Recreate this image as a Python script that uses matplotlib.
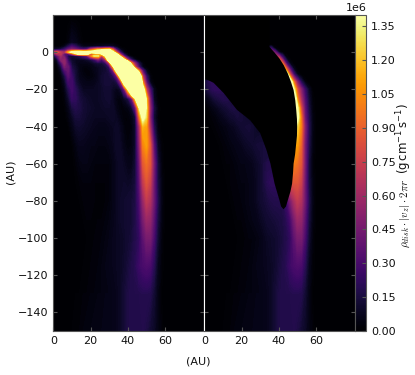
import numpy as np
import matplotlib
matplotlib.use("Agg")
import matplotlib.pyplot as plt
from matplotlib.cm import ScalarMappable
from matplotlib.colors import Normalize

W, H = 415, 375

# mass flux, in units of 1e4 (trailing zeros left out)
x_grid = [0, 2, 4, 6, 8, 10, 12, 14, 16, 18, 20, 22, 24, 26, 28, 30, 32, 34, 36, 38, 40, 42, 44, 46,
          48, 50, 52, 54, 56, 58, 60, 64, 70, 82]

y_left = [20, 5, 3, 1.5, 0, -1, -2, -4, -6, -8, -10, -13, -16, -20, -25, -30, -35, -40, -50, -60, -70,
          -80, -90, -100, -115, -130, -150]
flux_left = [
    [0],
    [0, 0, 0, 0, 3, 8, 6, 3, 1, 1, 1, 1, 1, 1, 1, 1, 1],
    [1, 1, 2, 6, 18, 30, 22, 12, 6, 5, 5, 6, 8, 8, 10, 10, 8, 4, 1],
    [8, 10, 14, 25, 40, 50, 45, 35, 30, 35, 70, 90, 110, 110, 125, 130, 80, 25, 6, 2],
    [70, 85, 70, 60, 110, 150, 170, 180, 170, 170, 160, 170, 190, 240, 300, 300, 150, 70, 22, 3],
    [30, 60, 70, 35, 30, 60, 110, 160, 170, 160, 80, 90, 100, 130, 240, 300, 300, 140, 50, 12, 2],
    [6, 35, 60, 40, 15, 12, 15, 20, 30, 40, 90, 130, 130, 70, 140, 300, 300, 240, 100, 32, 6, 1],
    [1, 10, 50, 55, 20, 10, 8, 8, 8, 10, 15, 25, 45, 30, 60, 200, 300, 300, 280, 140, 55, 18, 4],
    [0, 3, 25, 55, 30, 12, 8, 5, 5, 5, 6, 10, 12, 12, 20, 60, 220, 300, 300, 300, 230, 100, 50, 15, 2],
    [0, 1, 12, 45, 40, 16, 10, 5, 3, 3, 4, 6, 8, 10, 12, 22, 100, 260, 300, 300, 120, 190, 75, 28, 5, 1],
    [0, 0, 6, 30, 40, 20, 12, 5, 3, 2, 3, 5, 8, 10, 12, 16, 40, 160, 300, 300, 300, 120, 190, 95, 33, 6],
    [0, 0, 2, 14, 35, 25, 12, 6, 4, 3, 3, 4, 7, 11, 14, 14, 18, 40, 160, 300, 300, 250, 180, 210, 70, 22, 3],
    [0, 0, 1, 8, 28, 28, 14, 8, 6, 5, 5, 6, 8, 11, 14, 14, 12, 15, 50, 180, 300, 300, 250, 290, 100, 35, 5],
    [0, 0, 0, 4, 18, 28, 20, 12, 8, 8, 8, 8, 9, 10, 12, 12, 9, 6, 10, 40, 130, 280, 300, 300, 170, 70, 30, 6],
    [0, 0, 0, 2, 10, 24, 22, 15, 12, 10, 9, 9, 9, 10, 11, 12, 8, 4, 3, 8, 15, 40, 130, 300, 250, 120, 45, 8, 1],
    [0, 0, 0, 1, 5, 14, 18, 16, 13, 11, 10, 9, 9, 9, 10, 10, 10, 5, 3, 3, 4, 10, 40, 130, 200, 130, 55, 15, 3],
    [0, 0, 0, 0, 3, 8, 14, 14, 12, 10, 9, 8, 8, 8, 8, 9, 10, 8, 4, 2, 2, 4, 12, 90, 150, 125, 50, 12, 2],
    [0, 0, 0, 0, 1, 5, 10, 11, 10, 9, 8, 7, 6, 6, 6, 7, 8, 10, 7, 3, 2, 3, 10, 60, 115, 110, 60, 18, 3],
    [0, 0, 0, 0, 0, 1, 4, 7, 7, 6, 5, 5, 4, 4, 4, 5, 7, 10, 9, 5, 3, 4, 10, 50, 100, 110, 85, 35, 8, 2],
    [0, 0, 0, 0, 0, 0, 2, 4, 5, 5, 4, 3, 3, 3, 3, 3, 5, 8, 10, 8, 6, 6, 12, 40, 85, 95, 85, 45, 14, 3],
    [0, 0, 0, 0, 0, 0, 1, 2, 3, 3, 3, 2, 2, 2, 2, 3, 5, 8, 10, 10, 9, 10, 14, 35, 70, 85, 75, 42, 15, 4],
    [0, 0, 0, 0, 0, 0, 0, 1, 2, 3, 3, 2, 2, 2, 2, 3, 5, 8, 10, 11, 12, 13, 16, 30, 55, 72, 65, 42, 18, 5],
    [0, 0, 0, 0, 0, 0, 0, 1, 1, 2, 2, 2, 2, 2, 3, 4, 6, 8, 10, 11, 12, 13, 17, 26, 45, 58, 55, 36, 15, 4],
    [0, 0, 0, 0, 0, 0, 0, 0, 1, 1, 2, 2, 3, 3, 4, 5, 7, 8, 9, 10, 12, 14, 18, 22, 36, 46, 46, 30, 12, 3],
    [0, 0, 0, 0, 0, 0, 1, 1, 1, 2, 2, 3, 3, 4, 5, 6, 7, 8, 9, 11, 14, 17, 20, 26, 30, 32, 30, 20, 7, 2],
    [0, 0, 0, 0, 0, 0, 1, 1, 2, 2, 3, 3, 4, 4, 5, 5, 6, 7, 9, 13, 16, 18, 18, 18, 19, 19, 18, 12, 5, 1],
    [0, 0, 0, 0, 1, 1, 2, 2, 3, 4, 4, 5, 5, 5, 6, 6, 6, 7, 9, 13, 16, 18, 18, 18, 18, 16, 12, 9, 5, 2],
]

y_right = [20, 4, 2, 0, -3, -6, -9, -12, -16, -20, -25, -30, -35, -40, -50, -60, -70, -80, -90, -100,
           -115, -130, -150]
flux_right = [
    [0],
    [0],
    [0] * 17 + [25, 25, 3],
    [0] * 18 + [55, 40, 6],
    [0] * 19 + [75, 75, 30, 4],
    [0] * 20 + [100, 90, 30, 5],
    [0] * 21 + [130, 90, 35, 7],
    [0] * 22 + [170, 80, 28, 5],
    [10, 18, 22, 22, 22, 20, 18, 15, 12, 10, 8, 8, 8, 8, 8, 8, 8, 8, 8, 8, 8, 8, 200, 180, 95, 48, 18, 3],
    [10, 16, 20, 22, 22, 20, 16, 12, 10, 8, 8, 8, 8, 8, 8, 8, 8, 8, 8, 8, 8, 8, 8, 300, 140, 80, 50, 25, 8, 1],
    [3, 6, 10, 14, 16, 18, 18, 16, 13, 10, 8, 8, 8, 8, 8, 8, 8, 8, 8, 8, 8, 8, 8, 8, 200, 100, 62, 32, 12, 2],
    [1, 2, 4, 6, 9, 11, 13, 15, 16, 15, 12, 8, 8, 8, 8, 8, 8, 8, 8, 8, 8, 8, 8, 8, 200, 140, 80, 38, 15, 3],
    [0, 1, 2, 3, 5, 7, 9, 11, 12, 14, 14, 11, 8, 8, 8, 8, 8, 8, 8, 8, 8, 8, 8, 8, 200, 150, 95, 42, 18, 4],
    [0, 0, 1, 2, 3, 4, 5, 7, 8, 10, 12, 13, 14, 12, 8, 8, 8, 8, 8, 8, 8, 8, 8, 8, 130, 125, 100, 50, 20, 5],
    [0, 0, 0, 0, 1, 2, 3, 4, 5, 6, 7, 9, 10, 11, 13, 14, 14, 8, 8, 8, 8, 8, 8, 110, 110, 110, 90, 45, 18, 4],
    [0, 0, 0, 0, 0, 1, 2, 2, 3, 4, 5, 5, 6, 7, 9, 11, 15, 18, 18, 18, 18, 40, 80, 110, 100, 95, 85, 45, 14, 3],
    [0, 0, 0, 0, 0, 0, 1, 2, 3, 3, 4, 4, 5, 6, 8, 11, 15, 20, 22, 22, 22, 30, 60, 85, 85, 85, 75, 42, 15, 4],
    [0, 0, 0, 0, 0, 0, 0, 1, 2, 3, 3, 4, 5, 6, 8, 11, 13, 15, 17, 18, 18, 18, 26, 45, 62, 72, 65, 42, 18, 5],
    [0, 0, 0, 0, 0, 0, 0, 1, 1, 2, 2, 3, 4, 5, 6, 8, 10, 12, 13, 14, 15, 16, 20, 28, 45, 58, 55, 36, 15, 4],
    [0, 0, 0, 0, 0, 0, 0, 0, 1, 1, 2, 2, 3, 3, 4, 5, 7, 9, 10, 11, 13, 15, 18, 22, 36, 46, 46, 30, 12, 3],
    [0, 0, 0, 0, 0, 0, 1, 1, 1, 2, 2, 3, 3, 4, 5, 6, 7, 8, 9, 11, 14, 17, 20, 26, 30, 32, 30, 20, 7, 2],
    [0, 0, 0, 0, 0, 0, 1, 1, 2, 2, 3, 3, 4, 4, 5, 5, 6, 7, 9, 13, 16, 18, 18, 18, 19, 19, 18, 12, 5, 1],
    [0, 0, 0, 0, 1, 1, 2, 2, 3, 4, 4, 5, 5, 5, 6, 6, 6, 7, 9, 13, 16, 18, 18, 18, 18, 16, 12, 9, 5, 2],
]

cavity_x = [0, 2, 5, 10.4, 17.5, 24.6, 30, 33.4, 35.5, 37.7, 40.3, 41.2, 42.5, 43.8, 44.8, 46.2, 47.1, 47.6,
            47.9, 48.7, 49.3, 49.7, 49.8, 49.7, 49.3, 48.8, 47.9, 46.5, 44.8, 42.6, 40.3, 37.5, 35, 35, 0]
cavity_y = [-14.5, -15, -16.5, -22, -31, -36.6, -43.6, -52.7, -60, -70.7, -79.6, -83, -84.5, -83, -79.6, -75,
            -70.7, -65, -60, -55, -49, -45, -40, -36, -31, -26, -20.4, -16, -11.5, -7, -3.4, 0, 2.8, 20, 20]

x_ticks = [0, 20, 40, 60]
y_ticks = [0, -20, -40, -60, -80, -100, -120, -140]
cbar_ticks = [0, 0.15e6, 0.30e6, 0.45e6, 0.60e6, 0.75e6, 0.90e6, 1.05e6, 1.20e6, 1.35e6]
vmax = 1.4e6
grey = "#555555"


def to_field(rows):
    return np.array([r + [0] * (len(x_grid) - len(r)) for r in rows], dtype=float) * 1e4


def px_axes(x0, x1, y0, y1):
    return fig.add_axes([x0 / W, 1 - y1 / H, (x1 - x0) / W, (y1 - y0) / H])


fig = plt.figure(figsize=(W / 100, H / 100), dpi=100)
ax1 = px_axes(53.3, 204.3, 15, 331)
ax2 = px_axes(204.3, 355.3, 15, 331)
cax = px_axes(355.3, 366.3, 15, 331)

levels = np.linspace(0, vmax, 141)
for ax, ys, rows in [(ax1, y_left, flux_left), (ax2, y_right, flux_right)]:
    ax.set_facecolor("black")
    ax.contourf(x_grid, ys, to_field(rows), levels=levels, cmap="inferno", extend="max")
ax2.fill(cavity_x, cavity_y, color="black", lw=0, zorder=3)

for ax in (ax1, ax2):
    ax.set_xlim(0, 81)
    ax.set_ylim(-150, 20)
    ax.set_xticks(x_ticks)
    ax.set_yticks(y_ticks)
    ax.tick_params(direction="in", top=True, right=True, length=3, width=0.8, color=grey,
                   labelsize=8, pad=3.5, labelcolor="#111111", zorder=6)
    for sp in ax.spines.values():
        sp.set_color(grey)
        sp.set_linewidth(0.8)
        sp.set_zorder(5)
ax1.spines["right"].set_color("white")
ax2.spines["left"].set_color("white")
ax2.tick_params(labelleft=False)

cb = fig.colorbar(ScalarMappable(Normalize(0, vmax), "inferno"), cax=cax, ticks=cbar_ticks)
cb.ax.tick_params(direction="in", length=3, width=0.8, color=grey, labelsize=8, pad=3.5, labelcolor="#111111")
cb.ax.yaxis.get_offset_text().set_fontsize(8)
cb.formatter.set_useMathText(False)
cb.update_ticks()
cb.outline.set_edgecolor(grey)
cb.outline.set_linewidth(0.8)

fig.text(198 / W, 1 - 362 / H, "(AU)", fontsize=8, ha="center", va="center", color="#111111")
fig.text(10 / W, 1 - 172 / H, "(AU)", fontsize=8, rotation=90, ha="center", va="center", color="#111111")
fig.text(405 / W, 1 - 248 / H, r"$\rho_{disk}\cdot|v_z|\cdot 2\pi r$", fontsize=8, rotation=90, ha="center",
         va="bottom", math_fontfamily="cm", color="#111111")
fig.text(404.5 / W, 1 - 174 / H, r"(g$\,$cm$^{-1}\,$s$^{-1}$)", fontsize=8.5, rotation=90, ha="center",
         va="bottom", color="#111111")

fig.savefig("out.png", dpi=100)
